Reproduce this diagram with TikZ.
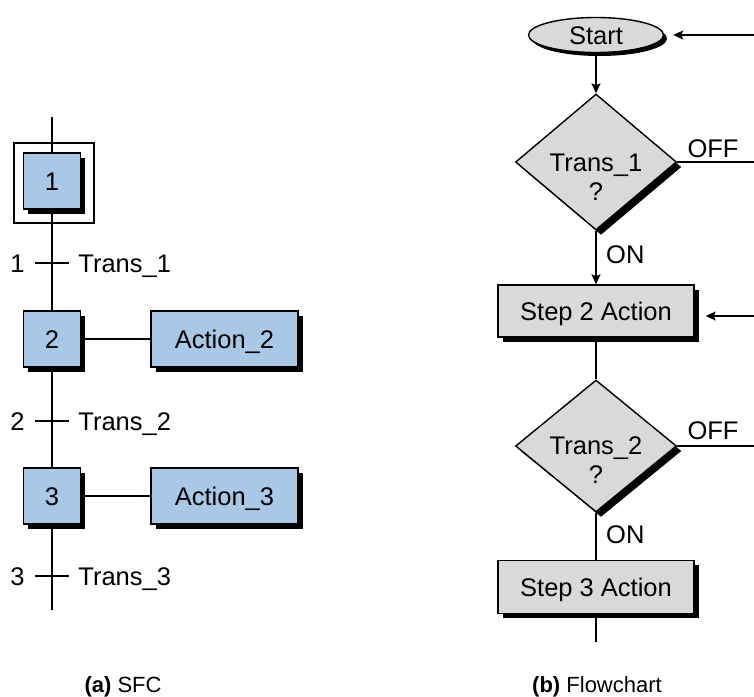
\documentclass[tikz,border=0pt]{standalone}
\usepackage{fontspec}
\setmainfont{Liberation Sans}
\usetikzlibrary{shapes.geometric,shadows,arrows.meta}
\definecolor{sfcblue}{HTML}{A8C8E6}
\definecolor{fcgrey}{HTML}{D9D9D9}
\begin{document}
\begin{tikzpicture}[x=1pt,y=-1pt,
  every node/.style={font=\fontsize{25.5}{30}\selectfont, inner sep=0pt},
  ln/.style={line width=1.6pt},
  arr/.style={ln,-{Stealth[length=10pt,width=9pt,inset=2pt]}},
  shad/.style={drop shadow={shadow xshift=4.5pt,shadow yshift=-4.5pt,opacity=1,fill=black}},
  stepbox/.style={draw,line width=1.4pt,fill=sfcblue,minimum width=57pt,minimum height=56pt,text height=18pt,text depth=0pt,shad},
  actbox/.style={stepbox,minimum width=147pt},
  fcbox/.style={draw,line width=1.4pt,fill=fcgrey,minimum width=196pt,minimum height=52pt,text height=18pt,text depth=0pt,shad},
  dia/.style={diamond,draw,line width=1.4pt,fill=fcgrey,minimum width=161pt,minimum height=136pt,
    drop shadow={shadow xshift=5pt,shadow yshift=-5pt,opacity=1,fill=black}},
  term/.style={ellipse,draw,line width=1.4pt,fill=fcgrey,minimum width=135pt,minimum height=35pt,text height=18pt,text depth=0pt,
    drop shadow={shadow xshift=3.5pt,shadow yshift=-3.5pt,opacity=1,fill=black}},
  tick/.style={minimum width=34pt,minimum height=0pt},
  capt/.style={font=\fontsize{22}{26}\selectfont,anchor=base}
]
\useasboundingbox (0,0) rectangle (754,696);

% ---------------- (a) SFC ----------------
\coordinate (top) at (52,117);
\coordinate (bot) at (52,610);
\node[draw,line width=1.4pt,minimum size=80pt] (s1o) at (54,183) {};
\node[stepbox] (s1) at (52,181) {1};
\node[stepbox] (s2) at (52,339) {2};
\node[actbox] (a2) at (224.5,339) {Action\_2};
\node[stepbox] (s3) at (52,496) {3};
\node[actbox] (a3) at (224.5,496) {Action\_3};
\node[tick] (t1) at (52,263) {};
\node[tick] (t2) at (52,421) {};
\node[tick] (t3) at (52,576) {};

\draw[ln] (top) -- (s1.north);
\draw[ln] (s1) -- (s2);
\draw[ln] (s2) -- (s3);
\draw[ln] (s3.south) -- (bot);
\draw[ln] (s2) -- (a2);
\draw[ln] (s3) -- (a3);
\draw[ln] (t1.west) -- (t1.east);
\draw[ln] (t2.west) -- (t2.east);
\draw[ln] (t3.west) -- (t3.east);

\node[anchor=base east] (n1) at ([xshift=-10pt,yshift=-9pt]t1.west) {1};
\node[anchor=base west] (l1) at ([xshift=9pt,yshift=-9pt]t1.east) {Trans\_1};
\node[anchor=base east] (n2) at ([xshift=-10pt,yshift=-9pt]t2.west) {2};
\node[anchor=base west] (l2) at ([xshift=9pt,yshift=-9pt]t2.east) {Trans\_2};
\node[anchor=base east] (n3) at ([xshift=-10pt,yshift=-9pt]t3.west) {3};
\node[anchor=base west] (l3) at ([xshift=9pt,yshift=-9pt]t3.east) {Trans\_3};

\node[capt] (capa) at (123,692) {\textbf{(a)} SFC};

% ---------------- (b) Flowchart ----------------
\node[term] (st) at (596,35) {Start};
\node[dia] (d1) at (596,162) {};
\node[anchor=base] (d1a) at ([yshift=-9pt]d1.center) {Trans\_1};
\node[anchor=base] (d1b) at ([yshift=-38pt]d1.center) {?};
\node[fcbox] (b2) at (596,311) {Step 2 Action};
\node[dia,minimum height=132pt] (d2) at (596,446) {};
\node[anchor=base] (d2a) at ([yshift=-8pt]d2.center) {Trans\_2};
\node[anchor=base] (d2b) at ([yshift=-37pt]d2.center) {?};
\node[fcbox,minimum height=53pt] (b3) at (596,587) {Step 3 Action};
\coordinate (fend) at (596,642);

\coordinate (r0) at (754,35);
\coordinate (r1) at (754,162);
\coordinate (r2) at (754,316);
\coordinate (r3) at (754,446);

\draw[arr,shorten >=9pt] (r0) -- (st.east);
\draw[arr] (st) -- (d1);
\draw[ln] (d1.east) -- (r1);
\node[anchor=base] (off1) at (713,157) {OFF};
\draw[arr] (d1) -- (b2);
\node[anchor=base west] (on1) at (606,263) {ON};
\draw[arr,shorten >=11pt] (r2) -- (r2 -| b2.east);
\draw[ln] (b2) -- (d2);
\draw[ln] (d2.east) -- (r3);
\node[anchor=base] (off2) at (713,439) {OFF};
\draw[ln] (d2) -- (b3);
\node[anchor=base west] (on2) at (606,543) {ON};
\draw[ln] (b3) -- (fend);

\node[capt] (capb) at (597,692) {\textbf{(b)} Flowchart};
\end{tikzpicture}
\end{document}
